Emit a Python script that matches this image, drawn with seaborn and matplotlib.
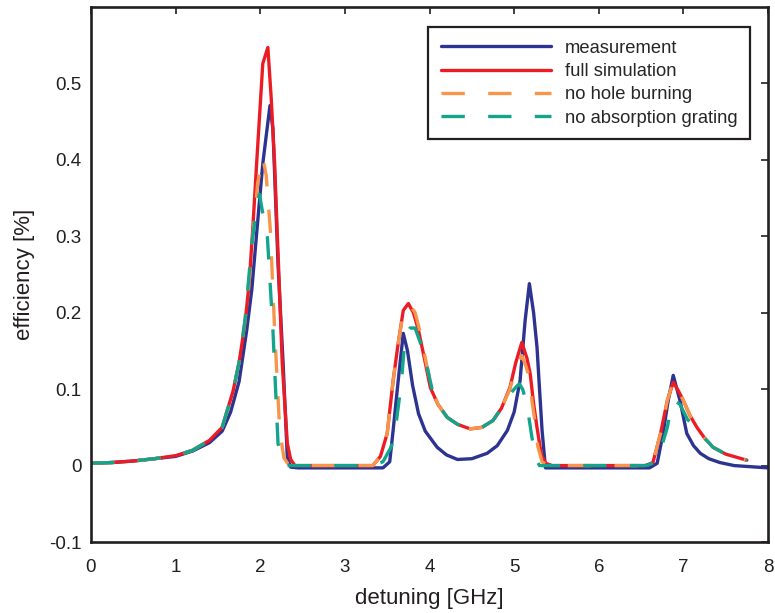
import numpy as np
import pandas as pd
import matplotlib
matplotlib.use("Agg")
import matplotlib.pyplot as plt
import seaborn as sns

# ---------------- data ----------------
meas_x = [0, 0.25, 0.5, 0.75, 1.0, 1.2, 1.4, 1.55, 1.65, 1.75, 1.84, 1.9, 1.96, 2.03, 2.08, 2.115,
          2.15, 2.21, 2.27, 2.32, 2.36, 2.45, 3.0, 3.45, 3.53, 3.57, 3.63, 3.69, 3.74, 3.8, 3.87,
          3.95, 4.09, 4.2, 4.33, 4.5, 4.68, 4.8, 4.92, 5.0, 5.07, 5.13, 5.18, 5.23, 5.27, 5.3, 5.33,
          5.37, 5.45, 6.0, 6.6, 6.69, 6.76, 6.82, 6.88, 6.96, 7.04, 7.12, 7.2, 7.3, 7.43, 7.6, 8.0]
meas_y = [0.003, 0.004, 0.006, 0.009, 0.012, 0.019, 0.03, 0.045, 0.07, 0.11, 0.177, 0.23, 0.307, 0.395,
          0.44, 0.471, 0.44, 0.264, 0.134, 0.01, -0.002, -0.003, -0.003, -0.003, 0.005, 0.046, 0.111,
          0.173, 0.15, 0.105, 0.068, 0.045, 0.024, 0.014, 0.008, 0.009, 0.016, 0.026, 0.046, 0.07,
          0.111, 0.19, 0.238, 0.2, 0.155, 0.1, 0.046, -0.003, -0.003, -0.003, -0.003, 0.003, 0.042,
          0.085, 0.118, 0.085, 0.042, 0.026, 0.016, 0.009, 0.004, 0.0, -0.003]

full_x = [0, 0.25, 0.5, 0.75, 1.0, 1.2, 1.4, 1.55, 1.68, 1.75, 1.82, 1.87, 1.91, 1.96, 2.03, 2.09,
          2.13, 2.17, 2.2, 2.26, 2.32, 2.36, 2.41, 3.0, 3.33, 3.42, 3.5, 3.57, 3.63, 3.69, 3.75, 3.81,
          3.87, 3.94, 4.01, 4.1, 4.21, 4.33, 4.48, 4.62, 4.75, 4.85, 4.95, 5.02, 5.09, 5.15, 5.19,
          5.23, 5.27, 5.32, 5.37, 5.45, 6.0, 6.55, 6.64, 6.73, 6.81, 6.88, 6.94, 7.0, 7.08, 7.16,
          7.25, 7.35, 7.5, 7.75]
full_y = [0.003, 0.004, 0.006, 0.009, 0.013, 0.02, 0.033, 0.05, 0.098, 0.135, 0.186, 0.24, 0.307, 0.40,
          0.526, 0.547, 0.48, 0.395, 0.307, 0.134, 0.029, 0.008, 0.0, 0.0, 0.0, 0.012, 0.042, 0.111,
          0.16, 0.203, 0.212, 0.2, 0.177, 0.14, 0.102, 0.08, 0.063, 0.054, 0.048, 0.05, 0.059, 0.075,
          0.102, 0.135, 0.161, 0.141, 0.12, 0.081, 0.05, 0.015, 0.003, 0.0, 0.0, 0.0, 0.004, 0.042,
          0.085, 0.109, 0.098, 0.085, 0.065, 0.05, 0.036, 0.024, 0.015, 0.007]

nohb_x = [0, 0.25, 0.5, 0.75, 1.0, 1.2, 1.4, 1.55, 1.68, 1.75, 1.82, 1.87, 1.92, 1.97, 2.03, 2.07,
          2.12, 2.17, 2.23, 2.28, 2.33, 2.4, 3.0, 3.33, 3.42, 3.5, 3.57, 3.63, 3.69, 3.77, 3.83, 3.9,
          3.96, 4.03, 4.1, 4.21, 4.33, 4.48, 4.62, 4.75, 4.85, 4.95, 5.01, 5.09, 5.14, 5.19, 5.21,
          5.25, 5.28, 5.33, 5.4, 6.0, 6.55, 6.64, 6.73, 6.81, 6.88, 6.94, 7.0, 7.08, 7.16, 7.25,
          7.35, 7.5, 7.75]
nohb_y = [0.003, 0.004, 0.006, 0.009, 0.013, 0.02, 0.033, 0.05, 0.098, 0.135, 0.19, 0.245, 0.31, 0.37,
          0.403, 0.38, 0.307, 0.177, 0.046, 0.01, 0.002, 0.0, 0.0, 0.0, 0.012, 0.042, 0.111, 0.16,
          0.2, 0.21, 0.2, 0.17, 0.135, 0.1, 0.08, 0.063, 0.054, 0.048, 0.05, 0.059, 0.075, 0.1,
          0.124, 0.144, 0.13, 0.111, 0.085, 0.055, 0.025, 0.005, 0.0, 0.0, 0.0, 0.004, 0.042, 0.085,
          0.11, 0.098, 0.085, 0.065, 0.05, 0.036, 0.024, 0.015, 0.007]

noag_x = [0, 0.25, 0.5, 0.75, 1.0, 1.2, 1.4, 1.55, 1.68, 1.75, 1.82, 1.86, 1.9, 1.95, 1.99, 2.03,
          2.08, 2.15, 2.21, 2.26, 2.3, 3.0, 3.33, 3.45, 3.55, 3.61, 3.67, 3.71, 3.77, 3.83, 3.9,
          3.96, 4.03, 4.1, 4.21, 4.33, 4.48, 4.62, 4.75, 4.85, 4.92, 5.0, 5.06, 5.1, 5.15, 5.21,
          5.26, 5.3, 6.0, 6.55, 6.64, 6.73, 6.81, 6.86, 6.9, 6.96, 7.05, 7.16, 7.25, 7.35, 7.5, 7.75]
noag_y = [0.003, 0.004, 0.006, 0.009, 0.013, 0.02, 0.033, 0.05, 0.098, 0.135, 0.19, 0.24, 0.29, 0.33,
          0.355, 0.33, 0.307, 0.177, 0.029, 0.005, 0.0, 0.0, 0.0, 0.005, 0.025, 0.059, 0.111, 0.168,
          0.18, 0.18, 0.158, 0.135, 0.1, 0.08, 0.063, 0.054, 0.048, 0.05, 0.059, 0.075, 0.089, 0.1,
          0.107, 0.1, 0.081, 0.037, 0.008, 0.0, 0.0, 0.0, 0.003, 0.02, 0.05, 0.08, 0.085, 0.08,
          0.06, 0.05, 0.036, 0.024, 0.015, 0.007]

labels = ["measurement", "full simulation", "no hole burning", "no absorption grating"]
colors = ["#2d3391", "#ec1c24", "#f7964b", "#13a58b"]

# ---------------- style ----------------
sns.set_style("white")
plt.rcParams["font.family"] = ["Liberation Sans", "DejaVu Sans"]
plt.rcParams["font.size"] = 12

fig = plt.figure(figsize=(7.75, 6.13), dpi=100)
ax = fig.add_axes([0.1174, 0.1158, 0.8736, 0.8728])

series = [(meas_x, meas_y), (full_x, full_y), (nohb_x, nohb_y), (noag_x, noag_y)]
styles = ["-", "-", (0, (7, 7)), (0, (7, 7))]
for (xs, ys), lab, col, ls in zip(series, labels, colors, styles):
    df = pd.DataFrame({"x": xs, "y": ys})
    sns.lineplot(data=df, x="x", y="y", ax=ax, color=col, linewidth=2.4,
                 linestyle=ls, label=lab, sort=False, estimator=None)

ax.set_xlim(0, 8)
ax.set_ylim(-0.1, 0.6)
ax.set_xticks(range(0, 9))
ax.set_yticks([-0.1, 0, 0.1, 0.2, 0.3, 0.4, 0.5])
ax.set_yticklabels(["-0.1", "0", "0.1", "0.2", "0.3", "0.4", "0.5"])
ax.set_xlabel("detuning [GHz]", fontsize=16, labelpad=9, color="#231f20")
ax.set_ylabel("efficiency [%]", fontsize=16, labelpad=10, color="#231f20")
ax.tick_params(direction="in", length=5, width=1.2, top=True, right=True,
               labelsize=13.5, colors="#231f20")
ax.tick_params(axis="x", pad=12)
ax.tick_params(axis="y", pad=7)
for sp in ax.spines.values():
    sp.set_linewidth(1.9)
    sp.set_color("#231f20")
    sp.set_visible(True)

leg = ax.legend(loc="upper right", bbox_to_anchor=(0.9734, 0.9626), borderaxespad=0,
                fontsize=13.2, handlelength=6.0, handletextpad=0.75, borderpad=0.7,
                labelspacing=0.34, fancybox=False, framealpha=1, edgecolor="#231f20")
leg.get_frame().set_linewidth(1.6)

fig.savefig("out.png", dpi=100)
